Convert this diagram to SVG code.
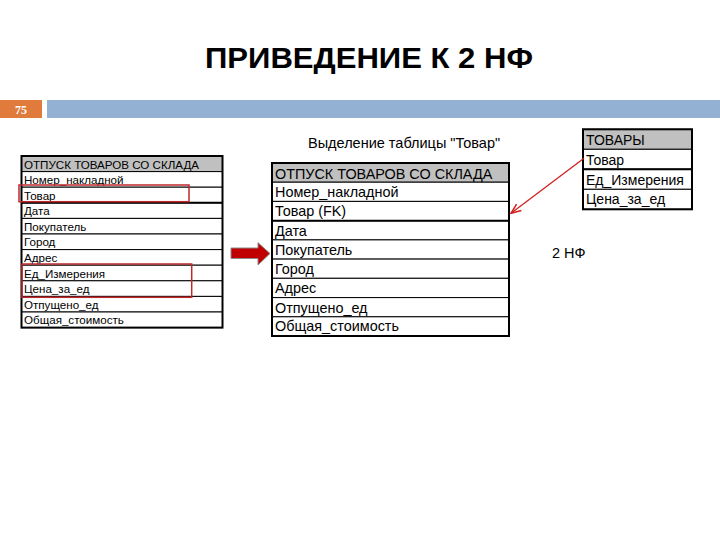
<svg xmlns="http://www.w3.org/2000/svg" width="720" height="540" viewBox="0 0 720 540">
<defs>
<style>
.t{font-family:"Liberation Sans",Arial,sans-serif;fill:#000}
.cell{fill:#fff;stroke:#000;stroke-width:1}
.outer{fill:none;stroke:#000;stroke-width:2}
.thick{stroke:#000;stroke-width:2}
.sel{fill:none;stroke:#c0282c;stroke-width:1.5}
</style>
<marker id="ah" viewBox="0 0 12 12" refX="11" refY="6" markerWidth="12" markerHeight="12" markerUnits="userSpaceOnUse" orient="auto">
<path d="M1,2 L11,6 L1,10" fill="none" stroke="#d02020" stroke-width="1.5"/>
</marker>
</defs>
<rect width="720" height="540" fill="#fff"/>
<text class="t" x="369" y="68" font-size="29" font-weight="bold" text-anchor="middle" textLength="328" lengthAdjust="spacingAndGlyphs">ПРИВЕДЕНИЕ К 2 НФ</text>
<rect x="0" y="100" width="42" height="18" fill="#e07b3c"/>
<text x="21" y="113.5" font-family="Liberation Serif,serif" font-size="12" font-weight="bold" fill="#fff" text-anchor="middle">75</text>
<rect x="47" y="100" width="673" height="18" fill="#93b1d3"/>

<g id="left-table">
<g class="cell">
<rect x="21.5" y="156" width="201" height="15.6" fill="#c0c0c0"/>
<rect x="21.5" y="171.6" width="201" height="15.6"/>
<rect x="21.5" y="187.2" width="201" height="15.6"/>
<rect x="21.5" y="202.8" width="201" height="15.6"/>
<rect x="21.5" y="218.4" width="201" height="15.6"/>
<rect x="21.5" y="234" width="201" height="15.6"/>
<rect x="21.5" y="249.6" width="201" height="15.6"/>
<rect x="21.5" y="265.2" width="201" height="15.6"/>
<rect x="21.5" y="280.8" width="201" height="15.6"/>
<rect x="21.5" y="296.4" width="201" height="15.6"/>
<rect x="21.5" y="312" width="201" height="15.6"/>
</g>
<line x1="21.5" y1="202.8" x2="222.5" y2="202.8" class="thick"/>
<rect x="21.5" y="156" width="201" height="171.6" class="outer"/>
<g class="t" font-size="11.6">
<text x="24" y="168.5">ОТПУСК ТОВАРОВ СО СКЛАДА</text>
<text x="24" y="184">Номер_накладной</text>
<text x="24" y="199.6">Товар</text>
<text x="24" y="215.2">Дата</text>
<text x="24" y="230.8">Покупатель</text>
<text x="24" y="246.4">Город</text>
<text x="24" y="262">Адрес</text>
<text x="24" y="277.6">Ед_Измерения</text>
<text x="24" y="293.2">Цена_за_ед</text>
<text x="24" y="308.8">Отпущено_ед</text>
<text x="24" y="324.4">Общая_стоимость</text>
</g>
<rect x="19" y="185" width="170" height="16.7" class="sel"/>
<rect x="22" y="264" width="169.7" height="33.3" class="sel"/>
</g>

<g id="block-arrow">
<path d="M231,248 L258,248 L258,242.7 L270,253.5 L258,265 L258,258.5 L231,258.5 Z" fill="#c00000" stroke="#8a8a8a" stroke-width="1"/>
</g>

<text class="t" x="308" y="148" font-size="14.5">Выделение таблицы "Товар"</text>

<g id="middle-table">
<g class="cell">
<rect x="272" y="163" width="237" height="19.2" fill="#c0c0c0"/>
<rect x="272" y="182.2" width="237" height="19.2"/>
<rect x="272" y="201.4" width="237" height="19.3"/>
<rect x="272" y="220.7" width="237" height="19.2"/>
<rect x="272" y="239.9" width="237" height="19.2"/>
<rect x="272" y="259.1" width="237" height="19.2"/>
<rect x="272" y="278.3" width="237" height="19.3"/>
<rect x="272" y="297.6" width="237" height="19.2"/>
<rect x="272" y="316.8" width="237" height="19.2"/>
</g>
<line x1="272" y1="220.7" x2="509" y2="220.7" class="thick"/>
<rect x="272" y="163" width="237" height="173" class="outer"/>
<g class="t" font-size="14.4">
<text x="275" y="178.5">ОТПУСК ТОВАРОВ СО СКЛАДА</text>
<text x="275" y="197.3">Номер_накладной</text>
<text x="275" y="216.3">Товар (FK)</text>
<text x="275" y="235.7">Дата</text>
<text x="275" y="254.9">Покупатель</text>
<text x="275" y="274.1">Город</text>
<text x="275" y="293.3">Адрес</text>
<text x="275" y="312.5">Отпущено_ед</text>
<text x="275" y="331.3">Общая_стоимость</text>
</g>
</g>

<g id="right-table">
<g class="cell">
<rect x="583" y="129.3" width="109" height="20" fill="#c0c0c0"/>
<rect x="583" y="149.3" width="109" height="20"/>
<rect x="583" y="169.3" width="109" height="20"/>
<rect x="583" y="189.3" width="109" height="20"/>
</g>
<line x1="583" y1="169.3" x2="692" y2="169.3" class="thick"/>
<rect x="583" y="129.3" width="109" height="80" class="outer"/>
<g class="t" font-size="14">
<text x="586" y="145">ТОВАРЫ</text>
<text x="586" y="165">Товар</text>
<text x="586" y="184.5">Ед_Измерения</text>
<text x="586" y="204.3">Цена_за_ед</text>
</g>
</g>

<g id="connectors">
<line x1="584" y1="158.3" x2="511" y2="213.3" stroke="#d02020" stroke-width="1.3" marker-end="url(#ah)"/>
</g>

<text class="t" x="552" y="258" font-size="14.5">2 НФ</text>
</svg>
